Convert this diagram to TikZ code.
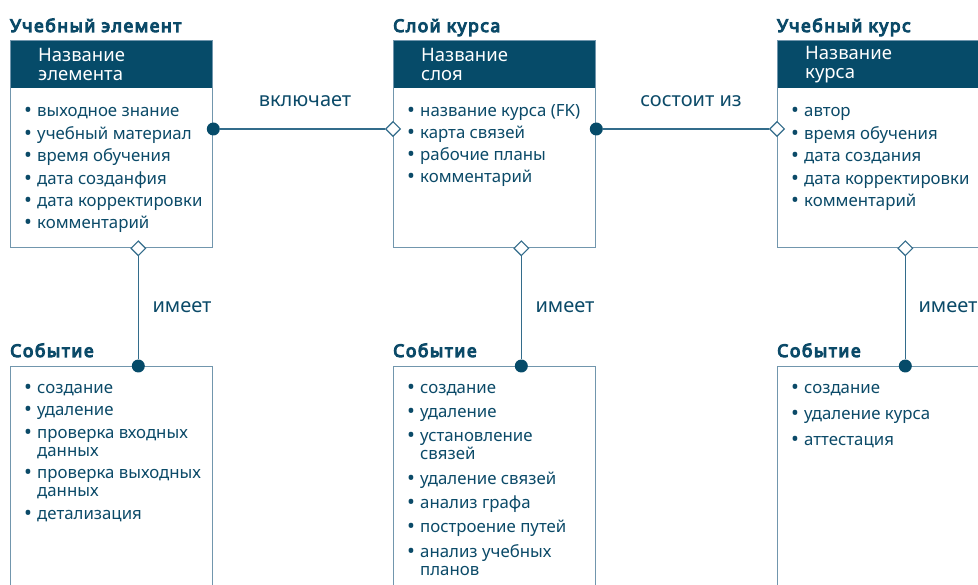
\documentclass[tikz,border=0pt]{standalone}
\usepackage{fontspec}
\setmainfont{Noto Sans}
\newfontfamily\heavyfont{Noto Sans}[FakeBold=6, LetterSpace=9]
\usetikzlibrary{shapes.geometric}
\definecolor{headblue}{HTML}{064B69}
\definecolor{txtblue}{HTML}{0B4A68}
\definecolor{frameblue}{HTML}{7196AD}
\definecolor{linkblue}{HTML}{336C8B}
\newcommand{\bul}{\makebox[13pt][l]{\raisebox{-1pt}{\fontsize{21}{18}\selectfont•}}}
\newcommand{\wrapin}{\hspace*{13pt}}
\tikzset{
	entity/.style={draw=frameblue, line width=1.3pt, minimum width=202pt, inner sep=0pt, anchor=north west},
	header/.style={fill=headblue, text=white, minimum width=202pt, minimum height=48pt, text width=146pt, align=left, inner sep=0pt, anchor=north west, font=\fontsize{18.5}{19}\selectfont},
	title/.style={text=txtblue, anchor=base west, inner sep=0pt, font=\heavyfont\fontsize{17.5}{20}\selectfont},
	items/.style={text=txtblue, anchor=north west, align=left, inner sep=0pt, font=\fontsize{16.8}{18}\selectfont},
	rel/.style={text=txtblue, inner sep=0pt, font=\fontsize{20}{22}\selectfont},
	link/.style={draw=linkblue, line width=1.3pt},
	one/.style={circle, fill=headblue, minimum size=13pt, inner sep=0pt},
	many/.style={diamond, draw=linkblue, fill=white, line width=1.1pt, minimum size=15pt, inner sep=0pt}
}
\begin{document}
\begin{tikzpicture}[x=1pt, y=-1pt]
		\useasboundingbox (0,0) rectangle (978,585);
		\clip (0,0) rectangle (978,585);
		
		%top row
		\node[title] (elemt) at (10,32) {Учебный элемент};
		\node[header] (elemh) at (10,40) {Название\\элемента};
		\node[entity, minimum height=207pt] (elem) at (10,40) {};
		\node[items] (eleml) at (24,103.4) {\strut\bul выходное знание\\[4.2pt]\bul учебный материал\\[4.2pt]\bul время обучения\\[4.2pt]\bul дата созданфия\\[4.2pt]\bul дата корректировки\\[4.2pt]\bul комментарий};
		
		\node[title] (layert) at (393,32) {Слой курса};
		\node[header] (layerh) at (393,40) {Название\\слоя};
		\node[entity, minimum height=207pt] (layer) at (393,40) {};
		\node[items] (layerl) at (407,103.4) {\strut\bul название курса (FK)\\[4.2pt]\bul карта связей\\[4.2pt]\bul рабочие планы\\[4.2pt]\bul комментарий};
		
		\node[title] (courset) at (777,32) {Учебный курс};
		\node[header] (courseh) at (777,40) {Название\\курса};
		\node[entity, minimum height=207pt] (course) at (777,40) {};
		\node[items] (coursel) at (791,103.4) {\strut\bul автор\\[4.2pt]\bul время обучения\\[4.2pt]\bul дата создания\\[4.2pt]\bul дата корректировки\\[4.2pt]\bul комментарий};
		
		%bottom row
		\node[title] (ev1t) at (10,357) {Событие};
		\node[entity, minimum height=240pt] (ev1) at (10,366) {};
		\node[items] (ev1l) at (24,380.4) {\strut\bul создание\\[4.5pt]\bul удаление\\[4.5pt]\bul проверка входных\\\wrapin данных\\[4.5pt]\bul проверка выходных\\\wrapin данных\\[4.5pt]\bul детализация};
		
		\node[title] (ev2t) at (393,357) {Событие};
		\node[entity, minimum height=240pt] (ev2) at (393,366) {};
		\node[items] (ev2l) at (407,380.4) {\strut\bul создание\\[6.3pt]\bul удаление\\[6.3pt]\bul установление\\\wrapin связей\\[6.3pt]\bul удаление связей\\[6.3pt]\bul анализ графа\\[6.3pt]\bul построение путей\\[6.3pt]\bul анализ учебных\\\wrapin планов};
		
		\node[title] (ev3t) at (777,357) {Событие};
		\node[entity, minimum height=240pt] (ev3) at (777,366) {};
		\node[items] (ev3l) at (791,380.4) {\strut\bul создание\\[8pt]\bul удаление курса\\[8pt]\bul аттестация};
		
		%horizontal links
		\node[one] (d1) at ([yshift=-89pt]elem.north east) {};
		\node[many] (m1) at ([yshift=-89pt]layer.north west) {};
		\draw[link] (d1) -- (m1);
		\node[rel] (r1) at (305,101) {включает};
		
		\node[one] (d2) at ([yshift=-89pt]layer.north east) {};
		\node[many] (m2) at ([yshift=-89pt]course.north west) {};
		\draw[link] (d2) -- (m2);
		\node[rel] (r2) at (691,101) {состоит из};
		
		%vertical links
		\node[many] (m3) at ([xshift=-75pt]elem.south east) {};
		\node[one] (d3) at ([xshift=-75pt]ev1.north east) {};
		\draw[link] (m3) -- (d3);
		\node[rel] (r3) at (182,307) {имеет};
		
		\node[many] (m4) at ([xshift=-75pt]layer.south east) {};
		\node[one] (d4) at ([xshift=-75pt]ev2.north east) {};
		\draw[link] (m4) -- (d4);
		\node[rel] (r4) at (565,307) {имеет};
		
		\node[many] (m5) at ([xshift=-75pt]course.south east) {};
		\node[one] (d5) at ([xshift=-75pt]ev3.north east) {};
		\draw[link] (m5) -- (d5);
		\node[rel] (r5) at (948,307) {имеет};
\end{tikzpicture}
\end{document}
